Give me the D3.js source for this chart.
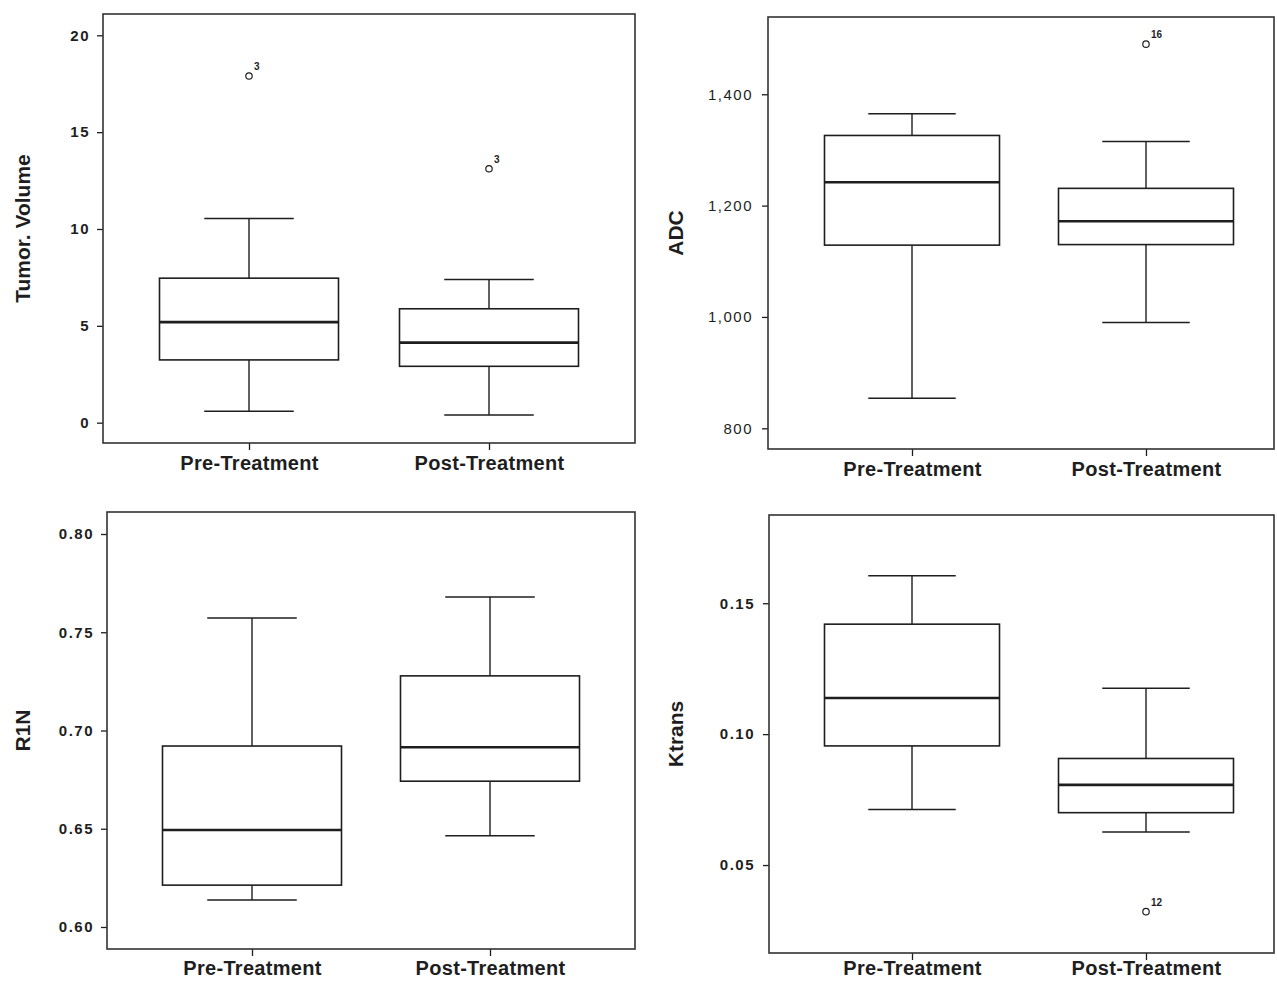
<!DOCTYPE html>
<html>
<head>
<meta charset="utf-8">
<script src="https://cdn.jsdelivr.net/npm/d3@7"></script>
<style>
  html, body { margin: 0; padding: 0; background: #fff; }
  svg { display: block; font-family: "Liberation Sans", Arial, Helvetica, sans-serif; }
</style>
</head>
<body>
<svg id="chart" width="1277" height="981"></svg>
<script>
// ---------------- DATA ----------------
const categories = ["Pre-Treatment", "Post-Treatment"];

// five-number summaries: [min whisker, Q1, median, Q3, max whisker]
const tumorVolumeStats = [[0.59, 3.24, 5.19, 7.46, 10.54], [0.40, 2.91, 4.13, 5.88, 7.39]];
const tumorVolumeOutliers = [{ cat: "Pre-Treatment", value: 17.9, label: "3" }, { cat: "Post-Treatment", value: 13.11, label: "3" }];
const tumorVolumeTicks = [0, 5, 10, 15, 20];
const tumorVolumeTickLabels = ["0", "5", "10", "15", "20"];

const adcStats = [[854, 1129, 1242, 1326, 1365], [990, 1130, 1172, 1231, 1315]];
const adcOutliers = [{ cat: "Post-Treatment", value: 1490, label: "16" }];
const adcTicks = [800, 1000, 1200, 1400];
const adcTickLabels = ["800", "1,000", "1,200", "1,400"];

const r1nStats = [[0.6137, 0.6213, 0.6494, 0.6921, 0.7573], [0.6464, 0.6742, 0.6915, 0.7278, 0.768]];
const r1nOutliers = [];
const r1nTicks = [0.60, 0.65, 0.70, 0.75, 0.80];
const r1nTickLabels = ["0.60", "0.65", "0.70", "0.75", "0.80"];

const ktransStats = [[0.0712, 0.0955, 0.1138, 0.142, 0.1605], [0.0626, 0.070, 0.0806, 0.0907, 0.1175]];
const ktransOutliers = [{ cat: "Post-Treatment", value: 0.0322, label: "12" }];
const ktransTicks = [0.05, 0.10, 0.15];
const ktransTickLabels = ["0.05", "0.10", "0.15"];

// ---------------- LAYOUT ----------------
const panels = [
  { title: "Tumor. Volume", stats: tumorVolumeStats, outliers: tumorVolumeOutliers, ticks: tumorVolumeTicks, tickLabels: tumorVolumeTickLabels,
    x0: 103, x1: 635, y0: 14, y1: 443, domain: [-1.05, 21.1], c0: 249, c1: 489, boxW: 179, titleX: 30, tickBold: true, tickPad: 7, xPad: 6 },
  { title: "ADC", stats: adcStats, outliers: adcOutliers, ticks: adcTicks, tickLabels: adcTickLabels,
    x0: 768, x1: 1274, y0: 17, y1: 449, domain: [762.8, 1538.8], c0: 912, c1: 1146, boxW: 175, titleX: 683, tickBold: false, tickPad: 9, xPad: 6 },
  { title: "R1N", stats: r1nStats, outliers: r1nOutliers, ticks: r1nTicks, tickLabels: r1nTickLabels,
    x0: 107, x1: 635, y0: 512, y1: 949, domain: [0.5888, 0.8112], c0: 252, c1: 490, boxW: 179, titleX: 30, tickBold: true, tickPad: 7, xPad: 5 },
  { title: "Ktrans", stats: ktransStats, outliers: ktransOutliers, ticks: ktransTicks, tickLabels: ktransTickLabels,
    x0: 769, x1: 1274, y0: 515, y1: 953, domain: [0.0164, 0.1837], c0: 912, c1: 1146, boxW: 175, titleX: 683, tickBold: true, tickPad: 8, xPad: 1 }
];

const svg = d3.select("#chart");
const ink = "#1e1e1e";

panels.forEach(p => {
  const g = svg.append("g");
  const y = d3.scaleLinear().domain(p.domain).range([p.y1, p.y0]);
  const x = d3.scalePoint().domain(categories).range([p.c0, p.c1]);

  // Y axis
  const yAxis = d3.axisLeft(y)
    .tickValues(p.ticks)
    .tickSize(6)
    .tickPadding(p.tickPad)
    .tickFormat((d, i) => p.tickLabels[i]);
  const ya = g.append("g").attr("transform", `translate(${p.x0},0)`).call(yAxis);
  ya.select(".domain").remove();
  ya.selectAll(".tick line").attr("stroke", ink).attr("stroke-width", 1.3);
  ya.selectAll(".tick text")
    .attr("fill", ink)
    .style("font-size", "15px")
    .style("font-weight", p.tickBold ? "bold" : "normal")
    .style("letter-spacing", "1.5px");

  // X axis
  const xAxis = d3.axisBottom(x).tickSize(7).tickPadding(p.xPad);
  const xa = g.append("g").attr("transform", `translate(0,${p.y1})`).call(xAxis);
  xa.select(".domain").remove();
  xa.selectAll(".tick line").attr("stroke", ink).attr("stroke-width", 1.3);
  xa.selectAll(".tick text")
    .attr("fill", ink)
    .style("font-size", "20px")
    .style("font-weight", "bold")
    .style("letter-spacing", "0.3px");

  // Frame
  g.append("rect")
    .attr("x", p.x0).attr("y", p.y0)
    .attr("width", p.x1 - p.x0).attr("height", p.y1 - p.y0)
    .attr("fill", "none").attr("stroke", "#333").attr("stroke-width", 1.6);

  // Y title
  g.append("text")
    .attr("transform", `translate(${p.titleX},${(p.y0 + p.y1) / 2}) rotate(-90)`)
    .attr("text-anchor", "middle")
    .attr("fill", ink)
    .style("font-size", "21px")
    .style("font-weight", "bold")
    .text(p.title);

  // Boxes
  const boxes = g.selectAll(".box").data(categories.map((c, i) => ({ cat: c, s: p.stats[i] })))
    .enter().append("g").attr("class", "box");

  boxes.each(function (d) {
    const bg = d3.select(this);
    const cx = x(d.cat);
    const [mn, q1, md, q3, mx] = d.s;
    const hw = p.boxW / 2;
    const cw = p.boxW / 4;
    // whiskers
    bg.append("line").attr("x1", cx).attr("x2", cx).attr("y1", y(q3)).attr("y2", y(mx))
      .attr("stroke", ink).attr("stroke-width", 1.4);
    bg.append("line").attr("x1", cx).attr("x2", cx).attr("y1", y(q1)).attr("y2", y(mn))
      .attr("stroke", ink).attr("stroke-width", 1.4);
    bg.append("line").attr("x1", cx - cw).attr("x2", cx + cw).attr("y1", y(mx)).attr("y2", y(mx))
      .attr("stroke", ink).attr("stroke-width", 1.5);
    bg.append("line").attr("x1", cx - cw).attr("x2", cx + cw).attr("y1", y(mn)).attr("y2", y(mn))
      .attr("stroke", ink).attr("stroke-width", 1.5);
    // box
    bg.append("rect").attr("x", cx - hw).attr("y", y(q3)).attr("width", p.boxW).attr("height", y(q1) - y(q3))
      .attr("fill", "#fff").attr("stroke", ink).attr("stroke-width", 1.6);
    // median
    bg.append("line").attr("x1", cx - hw).attr("x2", cx + hw).attr("y1", y(md)).attr("y2", y(md))
      .attr("stroke", ink).attr("stroke-width", 2.6);
  });

  // Outliers
  const outs = g.selectAll(".out").data(p.outliers).enter().append("g").attr("class", "out");
  outs.append("circle")
    .attr("cx", d => x(d.cat)).attr("cy", d => y(d.value)).attr("r", 3.2)
    .attr("fill", "#fff").attr("stroke", ink).attr("stroke-width", 1.2);
  outs.append("text")
    .attr("x", d => x(d.cat) + 5).attr("y", d => y(d.value) - 6)
    .attr("fill", ink)
    .style("font-size", "10px").style("font-weight", "bold")
    .text(d => d.label);
});
</script>
</body>
</html>
